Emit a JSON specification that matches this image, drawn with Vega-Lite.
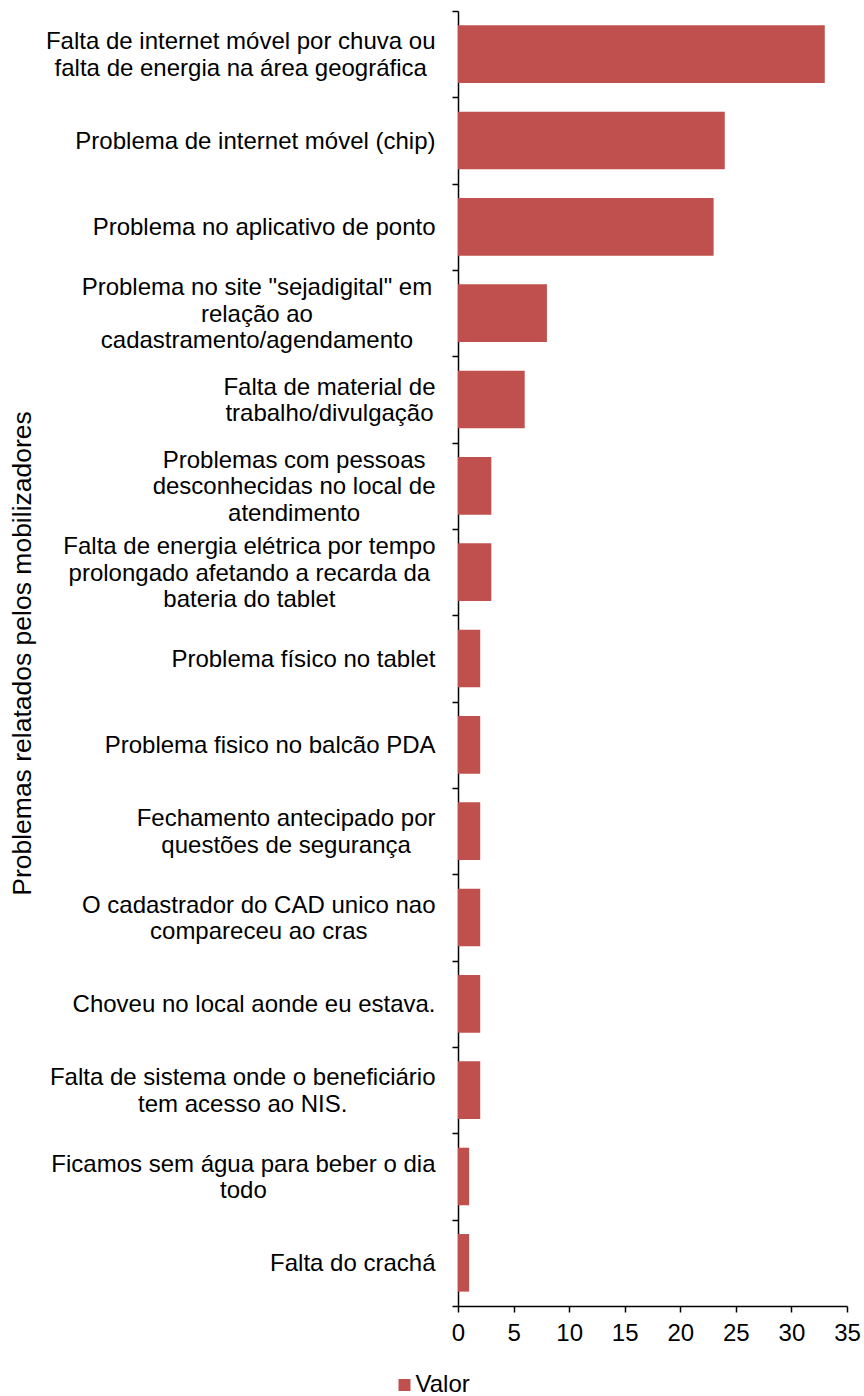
{
  "$schema": "https://vega.github.io/schema/vega-lite/v6.json",
  "width": 389,
  "height": 1295,
  "autosize": {"type": "none"},
  "padding": {"left": 458, "top": 11, "right": 17, "bottom": 90},
  "background": "white",
  "config": {
    "view": {"stroke": null},
    "font": "Liberation Sans"
  },
  "data": {
    "values": [
      {"problema": "Falta de internet móvel por chuva ou\nfalta de energia na área geográfica", "valor": 33, "serie": "Valor"},
      {"problema": "Problema de internet móvel (chip)", "valor": 24, "serie": "Valor"},
      {"problema": "Problema no aplicativo de ponto", "valor": 23, "serie": "Valor"},
      {"problema": "Problema no site \"sejadigital\"  em\nrelação ao\ncadastramento/agendamento", "valor": 8, "serie": "Valor"},
      {"problema": "Falta de material de\ntrabalho/divulgação", "valor": 6, "serie": "Valor"},
      {"problema": "Problemas com pessoas\ndesconhecidas no local de\natendimento", "valor": 3, "serie": "Valor"},
      {"problema": "Falta de energia elétrica por tempo\nprolongado afetando a recarda da\nbateria do tablet", "valor": 3, "serie": "Valor"},
      {"problema": "Problema físico no tablet", "valor": 2, "serie": "Valor"},
      {"problema": "Problema fisico no balcão PDA", "valor": 2, "serie": "Valor"},
      {"problema": "Fechamento antecipado por\nquestões de segurança", "valor": 2, "serie": "Valor"},
      {"problema": "O cadastrador do CAD unico nao\ncompareceu ao cras", "valor": 2, "serie": "Valor"},
      {"problema": "Choveu no local aonde eu estava.", "valor": 2, "serie": "Valor"},
      {"problema": "Falta de sistema onde o beneficiário\ntem acesso ao NIS.", "valor": 2, "serie": "Valor"},
      {"problema": "Ficamos sem água para beber o dia\ntodo", "valor": 1, "serie": "Valor"},
      {"problema": "Falta do crachá", "valor": 1, "serie": "Valor"}
    ]
  },
  "mark": {"type": "bar", "height": {"band": 0.667}},
  "encoding": {
    "y": {
      "field": "problema",
      "type": "nominal",
      "sort": null,
      "scale": {"paddingInner": 0, "paddingOuter": 0},
      "axis": {
        "title": "Problemas relatados pelos mobilizadores",
        "titleFontSize": 26.5,
        "titleFontWeight": "normal",
        "titleColor": "black",
        "titleX": -435.5,
        "titleY": 642,
        "titleAngle": 270,
        "titleBaseline": "middle",
        "titleAlign": "center",
        "labelExpr": "split(datum.label, '\\n')",
        "labelFontSize": 24,
        "labelLineHeight": 26.5,
        "labelColor": "black",
        "labelAlign": "center",
        "labelBaseline": "middle",
        "labelOffset": {"expr": "-(length(split(datum.value, '\\n')) - 1) * 13.25 + 1"},
        "labelPadding": {"expr": "17 + 12 * max((0.295*length(split(datum.value,'\\n')[0])+0.334*length(replace(split(datum.value,'\\n')[0],regexp('[ilj]','g'),''))+0.278*length(replace(split(datum.value,'\\n')[0],regexp('[tf .,/Ií]','g'),''))+0.223*length(replace(split(datum.value,'\\n')[0],regexp('[r()]','g'),''))+0.201*length(replace(split(datum.value,'\\n')[0],regexp('\"','g'),''))+0.056*length(replace(split(datum.value,'\\n')[0],regexp('[cksvxyzç]','g'),''))-0.055*length(replace(split(datum.value,'\\n')[0],regexp('[FTZ]','g'),''))-0.111*length(replace(split(datum.value,'\\n')[0],regexp('[PSABEKVXY]','g'),''))-0.166*length(replace(split(datum.value,'\\n')[0],regexp('[CDHNRU]','g'),''))-0.222*length(replace(split(datum.value,'\\n')[0],regexp('[GOQ]','g'),''))-0.277*length(replace(split(datum.value,'\\n')[0],regexp('[mM]','g'),''))), (0.295*length((split(datum.value,'\\n')[1]||''))+0.334*length(replace((split(datum.value,'\\n')[1]||''),regexp('[ilj]','g'),''))+0.278*length(replace((split(datum.value,'\\n')[1]||''),regexp('[tf .,/Ií]','g'),''))+0.223*length(replace((split(datum.value,'\\n')[1]||''),regexp('[r()]','g'),''))+0.201*length(replace((split(datum.value,'\\n')[1]||''),regexp('\"','g'),''))+0.056*length(replace((split(datum.value,'\\n')[1]||''),regexp('[cksvxyzç]','g'),''))-0.055*length(replace((split(datum.value,'\\n')[1]||''),regexp('[FTZ]','g'),''))-0.111*length(replace((split(datum.value,'\\n')[1]||''),regexp('[PSABEKVXY]','g'),''))-0.166*length(replace((split(datum.value,'\\n')[1]||''),regexp('[CDHNRU]','g'),''))-0.222*length(replace((split(datum.value,'\\n')[1]||''),regexp('[GOQ]','g'),''))-0.277*length(replace((split(datum.value,'\\n')[1]||''),regexp('[mM]','g'),''))), (0.295*length((split(datum.value,'\\n')[2]||''))+0.334*length(replace((split(datum.value,'\\n')[2]||''),regexp('[ilj]','g'),''))+0.278*length(replace((split(datum.value,'\\n')[2]||''),regexp('[tf .,/Ií]','g'),''))+0.223*length(replace((split(datum.value,'\\n')[2]||''),regexp('[r()]','g'),''))+0.201*length(replace((split(datum.value,'\\n')[2]||''),regexp('\"','g'),''))+0.056*length(replace((split(datum.value,'\\n')[2]||''),regexp('[cksvxyzç]','g'),''))-0.055*length(replace((split(datum.value,'\\n')[2]||''),regexp('[FTZ]','g'),''))-0.111*length(replace((split(datum.value,'\\n')[2]||''),regexp('[PSABEKVXY]','g'),''))-0.166*length(replace((split(datum.value,'\\n')[2]||''),regexp('[CDHNRU]','g'),''))-0.222*length(replace((split(datum.value,'\\n')[2]||''),regexp('[GOQ]','g'),''))-0.277*length(replace((split(datum.value,'\\n')[2]||''),regexp('[mM]','g'),''))))"},
        "labelLimit": 0,
        "labelOverlap": false,
        "tickBand": "extent",
        "tickSize": 6,
        "tickColor": "black",
        "tickWidth": 1.5,
        "domainColor": "black",
        "domainWidth": 1.5,
        "grid": false
      }
    },
    "x": {
      "field": "valor",
      "type": "quantitative",
      "scale": {"domain": [0, 35], "nice": false},
      "axis": {
        "title": null,
        "values": [0, 5, 10, 15, 20, 25, 30, 35],
        "labelFontSize": 24,
        "labelColor": "black",
        "labelPadding": 9,
        "labelFlush": false,
        "tickSize": 6,
        "tickColor": "black",
        "tickWidth": 1.5,
        "domainColor": "black",
        "domainWidth": 1.5,
        "grid": false
      }
    },
    "color": {
      "field": "serie",
      "type": "nominal",
      "scale": {"range": ["#C0504D"]},
      "legend": {
        "title": null,
        "orient": "none",
        "legendX": -65.5,
        "legendY": 1362,
        "symbolType": "square",
        "symbolSize": 144,
        "symbolStrokeWidth": 0,
        "symbolOpacity": 1,
        "labelFontSize": 24,
        "labelColor": "black",
        "labelOffset": -1,
        "padding": 0
      }
    }
  }
}
